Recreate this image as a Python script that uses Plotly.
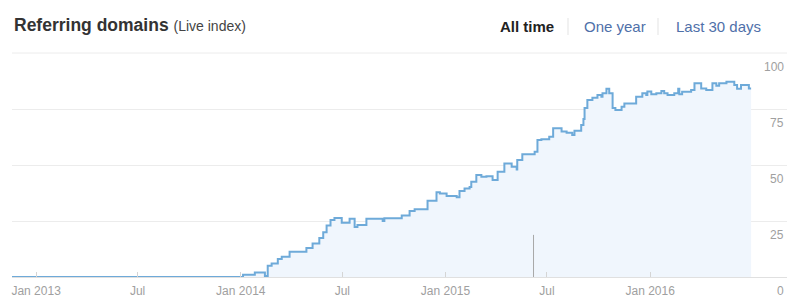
import plotly.graph_objects as go

# ---- data ----
dates = [
    "2012-11-19", "2014-01-05", "2014-01-26", "2014-02-13", "2014-02-18", "2014-02-25",
    "2014-03-08", "2014-03-15", "2014-03-29", "2014-04-28", "2014-05-09", "2014-05-21",
    "2014-05-28", "2014-06-03", "2014-06-10", "2014-06-17", "2014-06-30", "2014-07-14",
    "2014-07-23", "2014-07-28", "2014-08-13", "2014-09-11", "2014-09-14", "2014-10-15",
    "2014-10-29", "2014-11-07", "2014-11-30", "2014-12-16", "2014-12-22", "2015-01-03",
    "2015-01-21", "2015-01-26", "2015-02-04", "2015-02-13", "2015-02-16", "2015-02-25",
    "2015-03-06", "2015-03-15", "2015-03-26", "2015-04-04", "2015-04-16", "2015-04-29",
    "2015-05-08", "2015-05-09", "2015-05-18", "2015-06-09", "2015-06-14", "2015-06-21",
    "2015-07-05", "2015-07-12", "2015-07-27", "2015-08-05", "2015-08-15", "2015-08-19",
    "2015-08-31", "2015-09-04", "2015-09-06", "2015-09-11", "2015-09-20", "2015-09-29",
    "2015-10-06", "2015-10-08", "2015-10-15", "2015-10-20", "2015-10-26", "2015-10-31",
    "2015-11-11", "2015-11-16", "2015-12-07", "2015-12-18", "2015-12-25", "2015-12-27",
    "2016-01-03", "2016-01-12", "2016-01-21", "2016-01-26", "2016-02-01", "2016-02-13",
    "2016-02-20", "2016-02-22", "2016-02-27", "2016-03-14", "2016-03-20", "2016-04-01",
    "2016-04-10", "2016-04-21", "2016-04-28", "2016-05-03", "2016-05-16", "2016-05-30",
    "2016-06-04", "2016-06-11", "2016-06-25", "2016-06-29",
]
domains = [
    0, 1, 2, 0.5, 5, 6,
    8, 9, 11.3, 13, 15, 17.4,
    20, 23, 25.5, 26.3, 24.2, 26,
    22.3, 23.2, 26, 25, 26.2, 27.4,
    29.5, 30.2, 34, 37.8, 37.3, 36.2,
    35.6, 38.4, 39.5, 40.2, 42.5, 45.5,
    44.8, 45, 43.3, 47, 50.7, 49.2,
    48, 52.2, 54.8, 55.9, 61.2, 61.5,
    62.6, 66.4, 64.9, 64.4, 63.4, 65.3,
    67.9, 70.5, 75.4, 79, 80, 81.3,
    80.5, 82, 84, 82, 75.4, 74.5,
    76, 77.5, 80.5, 82, 81.3, 82.8,
    81.6, 82, 83, 82, 81.3, 82,
    84, 81.6, 82.7, 83.5, 86.5, 84.2,
    83.5, 86.5, 85.4, 86.5, 87.2, 85.7,
    84, 85.7, 84.2, 84.2,
]

x_tick_vals = ["2013-01-01", "2013-07-01", "2014-01-01", "2014-07-01",
               "2015-01-01", "2015-07-01", "2016-01-01"]
x_tick_text = ["Jan 2013", "Jul", "Jan 2014", "Jul", "Jan 2015", "Jul", "Jan 2016"]
x_range = ["2012-11-19", "2016-09-01"]

y_tick_vals = [0, 25, 50, 75, 100]
y_tick_text = ["0", "25", "50", "75", "100"]

event_dates = ["2015-06-07"]
event_heights = [18.8]

title_text = "Referring domains"
subtitle_text = "(Live index)"
menu_items = ["All time", "One year", "Last 30 days"]

# ---- styling ----
FONT = "Liberation Sans, Arial, Helvetica, sans-serif"
W, H = 800, 306
ML, MR, MT, MB = 12, 13, 53, 29
PW, PH = W - ML - MR, H - MT - MB


def px_x(p):
    return (p - ML) / PW


def px_y(p):
    return 1 + (MT - p) / PH


fig = go.Figure()
fig.add_trace(go.Scatter(
    x=dates, y=domains, mode="lines",
    line=dict(color="#6eaad9", width=2, shape="hv"),
    fill="tozeroy", fillcolor="#f0f6fd",
    hoverinfo="skip", showlegend=False,
))
for d, h in zip(event_dates, event_heights):
    fig.add_trace(go.Scatter(
        x=[d, d], y=[0, h], mode="lines",
        line=dict(color="#a8a8a8", width=1),
        hoverinfo="skip", showlegend=False,
    ))

annotations = []
annotations.append(dict(
    xref="paper", yref="paper", x=0, y=px_y(25), xanchor="left", yanchor="middle",
    showarrow=False,
    text=f"<b>{title_text}</b> <span style='font-size:14px;color:#444'>{subtitle_text}</span>",
    font=dict(family=FONT, size=17.5, color="#333333"),
))
menu_centers = [527, 614.5, 718.5]
for i, (label, cx) in enumerate(zip(menu_items, menu_centers)):
    annotations.append(dict(
        xref="paper", yref="paper", x=px_x(cx), y=px_y(27),
        xanchor="center", yanchor="middle", showarrow=False,
        text=f"<b>{label}</b>" if i == 0 else label,
        font=dict(family=FONT, size=15, color="#222222" if i == 0 else "#4f70a9"),
    ))
for v, t in zip(y_tick_vals, y_tick_text):
    annotations.append(dict(
        xref="paper", yref="y", x=px_x(786), y=v, yshift=-14,
        xanchor="right", yanchor="middle", showarrow=False,
        text=t, font=dict(family=FONT, size=12, color="#a0a0a0"),
    ))

shapes = []
for sx in (568, 658):
    shapes.append(dict(
        type="line", xref="paper", yref="paper",
        x0=px_x(sx), x1=px_x(sx), y0=px_y(18), y1=px_y(35),
        line=dict(color="#e3e3e3", width=1),
    ))
shapes.append(dict(
    type="line", xref="paper", yref="paper", x0=0, x1=1, y0=1, y1=1,
    line=dict(color="#ececec", width=1), layer="below",
))

fig.update_layout(
    width=W, height=H,
    margin=dict(l=ML, r=MR, t=MT, b=MB, pad=0, autoexpand=False),
    paper_bgcolor="white", plot_bgcolor="white",
    font=dict(family=FONT),
    showlegend=False,
    annotations=annotations,
    shapes=shapes,
    xaxis=dict(
        type="date", range=x_range,
        tickvals=x_tick_vals, ticktext=x_tick_text,
        ticks="inside", ticklen=5, tickcolor="#d5d5d5", tickwidth=1,
        ticklabelstandoff=3, automargin=False,
        showgrid=False, zeroline=False,
        showline=True, linecolor="#e0e0e0", linewidth=1,
        tickfont=dict(family=FONT, size=12, color="#a0a0a0"),
        fixedrange=True,
    ),
    yaxis=dict(
        range=[0, 100], tickvals=y_tick_vals, showticklabels=False,
        showgrid=True, gridcolor="#ececec", gridwidth=1,
        zeroline=False, showline=False, fixedrange=True, automargin=False,
    ),
)

fig.write_html("out.html", config={"displayModeBar": False})
